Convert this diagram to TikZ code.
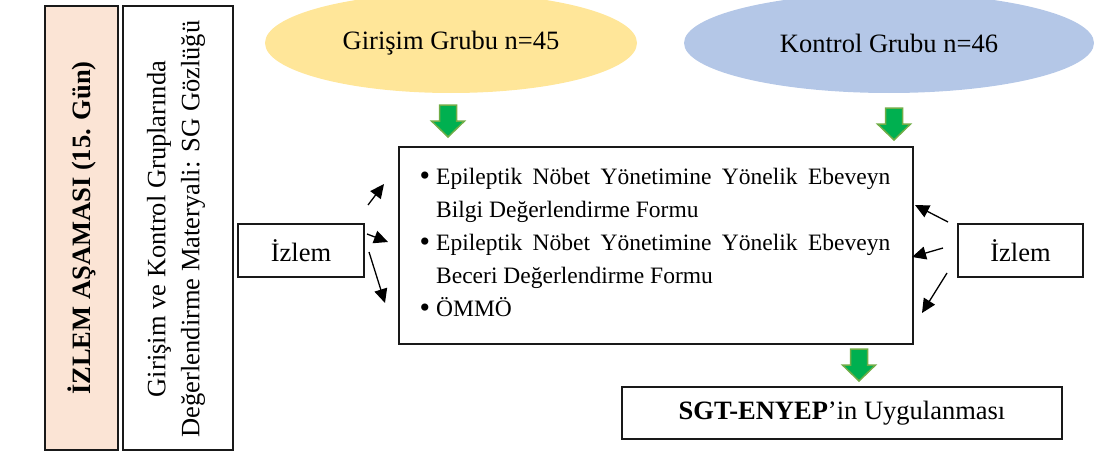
\documentclass[tikz,border=0pt]{standalone}
\usepackage{fontspec}
\setmainfont{Liberation Serif}
\usetikzlibrary{arrows.meta,shapes.geometric}
\definecolor{peach}{RGB}{251,228,213}
\definecolor{ylw}{RGB}{255,230,153}
\definecolor{blu}{RGB}{180,199,231}
\definecolor{grn}{RGB}{0,176,80}
\definecolor{grnb}{RGB}{112,173,71}
\definecolor{edge}{RGB}{25,25,25}
\newcommand{\bigbul}{\leavevmode\llap{\raisebox{-1pt}{\fontsize{30}{30}\selectfont\textbullet}\hspace{6pt}}}
\tikzset{
  box/.style={draw=edge, line width=1.6pt, inner sep=0pt},
  lbl/.style={font=\fontsize{26.5}{34}\selectfont, inner sep=0pt},
  oval/.style={ellipse, inner sep=0pt, font=\fontsize{26.5}{34}\selectfont},
  conn/.style={line width=1.3pt, -{Triangle[length=14pt,width=13pt]}},
  gdown/.pic={\filldraw[fill=grn, draw=grnb, line width=1.5pt, line join=miter]
     (-8.5,0) -- (8.5,0) -- (8.5,16) -- (16.5,16) -- (0,32) -- (-16.5,16) -- (-8.5,16) -- cycle;}
}
\begin{document}
\begin{tikzpicture}[x=1pt,y=-1pt]
\useasboundingbox (0,0) rectangle (1094,452);
% left vertical boxes
\node[box, fill=peach, minimum width=73pt, minimum height=444pt] (phase) at (81.5,228) {};
\node[lbl, rotate=90, font=\fontsize{26.5}{34}\selectfont\bfseries] (phaset) at (phase.center) {İZLEM AŞAMASI (15. Gün)};
\node[box, fill=white, minimum width=110pt, minimum height=444pt] (mat) at (178,228) {};
\node[lbl, rotate=90, align=center] (matt) at (176,229) {Girişim ve Kontrol Gruplarında\\Değerlendirme Materyali: SG Gözlüğü};
% ellipses
\node[oval, fill=ylw, minimum width=372pt, minimum height=100pt] (gir) at (451,43) {Girişim Grubu n=45};
\node[oval, fill=blu, minimum width=410pt, minimum height=100pt] (kon) at (889,43) {Kontrol Grubu n=46};
% green arrows
\pic at (448,105) {gdown};
\pic at (894,108) {gdown};
\pic at (859,349) {gdown};
% main box
\node[box, minimum width=514pt, minimum height=197pt, anchor=north west] (main) at (398,146) {};
\node[anchor=base west, inner sep=0pt, text width=454pt, align=justify,
      font=\fontsize{23.5}{33}\selectfont] (maint) at (436,184)
{\hyphenpenalty=10000\exhyphenpenalty=10000
\bigbul Epileptik Nöbet Yönetimine Yönelik Ebeveyn Bilgi Değerlendirme Formu\par
\bigbul Epileptik Nöbet Yönetimine Yönelik Ebeveyn Beceri Değerlendirme Formu\par
\bigbul ÖMMÖ};
% izlem boxes
\node[box, lbl, minimum width=126pt, minimum height=53pt] (izl) at (301,250.5) {İzlem};
\node[box, lbl, minimum width=125pt, minimum height=53pt] (izr) at (1020.5,250.5) {İzlem};
% bottom box
\node[box, lbl, minimum width=440pt, minimum height=52pt] (sgt) at (842,413) {\textbf{SGT-ENYEP}’in Uygulanması};
% arrow end points
\coordinate (l1s) at (368,205); \coordinate (l1e) at (384,184);
\coordinate (l2s) at (367,234); \coordinate (l2e) at (388,242);
\coordinate (l3s) at (369,252); \coordinate (l3e) at (385,303);
\coordinate (r1s) at (948,222); \coordinate (r1e) at (915,205);
\coordinate (r2s) at (943,248); \coordinate (r2e) at (912,257);
\coordinate (r3s) at (947,273); \coordinate (r3e) at (922,313);
\draw[conn] (l1s) -- (l1e);
\draw[conn] (l2s) -- (l2e);
\draw[conn] (l3s) -- (l3e);
\draw[conn] (r1s) -- (r1e);
\draw[conn] (r2s) -- (r2e);
\draw[conn] (r3s) -- (r3e);
\end{tikzpicture}
\end{document}
